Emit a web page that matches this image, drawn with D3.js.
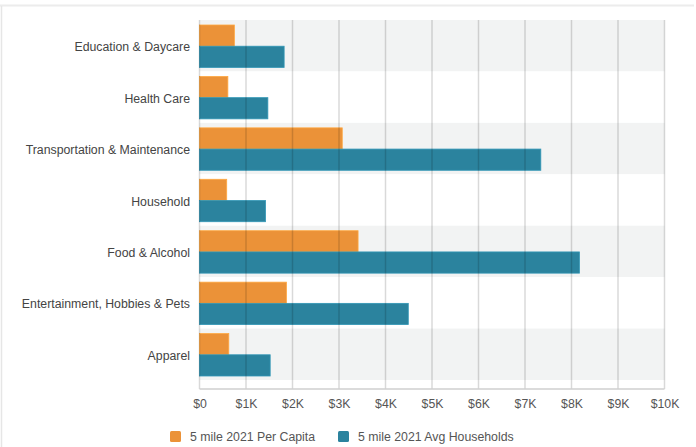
<!doctype html>
<html lang="en">
<head>
  <meta charset="utf-8">
  <title>Spending by Category</title>
</head>

<style>
  body {
    margin: 0;
    font-family: "Liberation Sans", Arial, sans-serif;
    background: #fff;
  }
</style>

<body>

  <script src="https://d3js.org/d3.v7.min.js"></script>

  <svg xmlns="http://www.w3.org/2000/svg"></svg>

  <script>

    // categories top to bottom
    var categories = ["Education & Daycare", "Health Care", "Transportation & Maintenance",
      "Household", "Food & Alcohol", "Entertainment, Hobbies & Pets", "Apparel"];

    // values in dollars
    var perCapita = [750, 610, 3070, 585, 3410, 1870, 630];
    var avgHouseholds = [1820, 1470, 7340, 1420, 8170, 4490, 1520];

    var seriesNames = ["5 mile 2021 Per Capita", "5 mile 2021 Avg Households"];
    var seriesColors = ["#eb9238", "#2b839e"];

    var tickValues = [0, 1000, 2000, 3000, 4000, 5000, 6000, 7000, 8000, 9000, 10000];

    var svg = d3.select("svg")
          .attr("width", 696)
          .attr("height", 447),
        margin = { top: 20, right: 31, bottom: 67, left: 200 },
        width = 696 - margin.left - margin.right,
        bandBottom = 360,
        axisY = 369,
        fontSize = "12.3px";

    // frame lines from the surrounding page
    svg.append("line")
      .attr("x1", 0).attr("x2", 694)
      .attr("y1", 5.5).attr("y2", 5.5)
      .attr("stroke", "#ececec")
      .attr("stroke-width", 2);
    svg.append("line")
      .attr("x1", 1.5).attr("x2", 1.5)
      .attr("y1", 6).attr("y2", 447)
      .attr("stroke", "#e6e6e6")
      .attr("stroke-width", 1.5);

    var g = svg.append("g").attr("transform", "translate(" + margin.left + "," + margin.top + ")");

    var x = d3.scaleLinear()
      .domain([0, 10000])
      .range([-0.5, width - 0.5]);

    var y = d3.scaleBand()
      .domain(categories)
      .range([0, bandBottom]);

    var inner = d3.scaleBand()
      .domain([0, 1])
      .range([5, y.bandwidth() - 4]);

    // alternating row bands
    g.selectAll(".band")
      .data(categories)
      .enter().append("rect")
      .attr("class", "band")
      .attr("x", x(0))
      .attr("y", d => y(d))
      .attr("width", x(10000) - x(0))
      .attr("height", y.bandwidth())
      .attr("fill", (d, i) => i % 2 == 0 ? "#f2f3f3" : "#fff");

    // bars
    var rows = categories.map(function(c, i) {
      return { cat: c, vals: [perCapita[i], avgHouseholds[i]] };
    });

    rows.forEach(function(r) {
      r.vals.forEach(function(v, s) {
        g.append("rect")
          .attr("x", x(0))
          .attr("y", y(r.cat) + inner(s))
          .attr("width", x(v) - x(0))
          .attr("height", inner.bandwidth())
          .attr("fill", seriesColors[s])
          .attr("stroke", d3.color(seriesColors[s]).brighter(0.4))
          .attr("stroke-width", 0.8);
      });
    });

    // grid lines sit on top of the bars
    g.selectAll(".grid")
      .data(tickValues)
      .enter().append("line")
      .attr("class", "grid")
      .attr("x1", d => x(d)).attr("x2", d => x(d))
      .attr("y1", 0).attr("y2", axisY)
      .attr("stroke", "#000")
      .attr("stroke-opacity", 0.15)
      .attr("stroke-width", 1.5);

    g.append("line")
      .attr("x1", x(0)).attr("x2", x(10000))
      .attr("y1", axisY).attr("y2", axisY)
      .attr("stroke", "#cfcfcf")
      .attr("stroke-width", 1.5);

    // x axis labels
    var xAxis = g.append("g")
      .attr("class", "x axis")
      .attr("transform", "translate(0," + axisY + ")")
      .call(d3.axisBottom(x)
        .tickValues(tickValues)
        .tickSize(0)
        .tickPadding(10)
        .tickFormat(d => d == 0 ? "$0" : "$" + (d / 1000) + "K"));
    xAxis.select(".domain").remove();
    xAxis.selectAll("text")
      .attr("fill", "#555")
      .style("font-size", fontSize)
      .style("font-family", "'Liberation Sans', Arial, sans-serif");

    // category labels
    var yAxis = g.append("g")
      .attr("class", "y axis")
      .call(d3.axisLeft(y).tickSize(0).tickPadding(10));
    yAxis.select(".domain").remove();
    yAxis.selectAll("text")
      .attr("fill", "#444")
      .attr("dy", "0.45em")
      .style("font-size", fontSize)
      .style("font-family", "'Liberation Sans', Arial, sans-serif");

    // legend
    var legendX = [170, 338];
    seriesNames.forEach(function(name, i) {
      var lg = svg.append("g").attr("transform", "translate(" + legendX[i] + ",431)");
      lg.append("rect")
        .attr("width", 11).attr("height", 11)
        .attr("rx", 1.5)
        .attr("fill", seriesColors[i]);
      lg.append("text")
        .attr("x", 20).attr("y", 10)
        .attr("fill", "#555")
        .style("font-size", fontSize)
        .text(name);
    });

  </script>
</body>
</html>
